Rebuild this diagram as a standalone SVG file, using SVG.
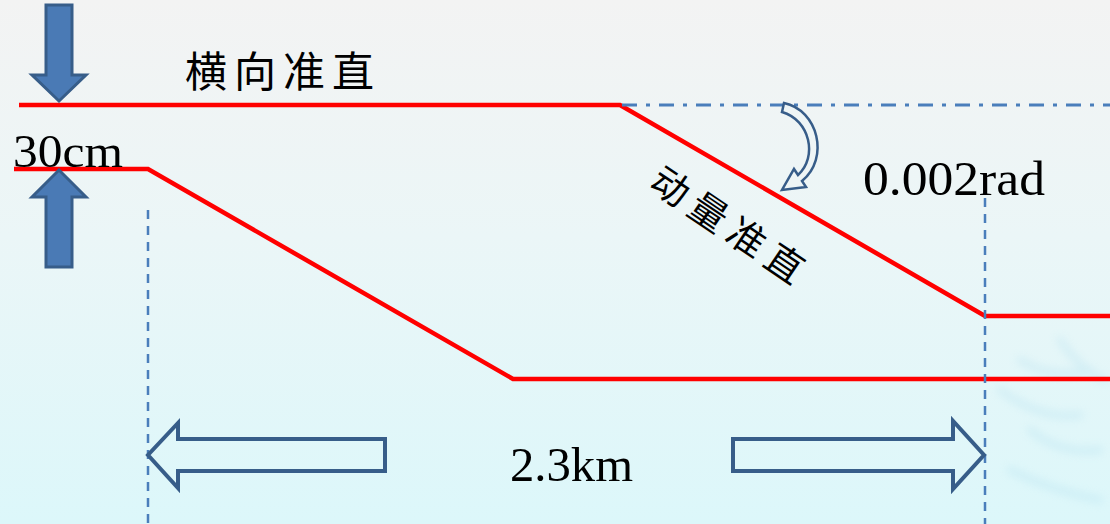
<svg xmlns="http://www.w3.org/2000/svg" width="1110" height="524" viewBox="0 0 1110 524">
  <defs>
    <linearGradient id="bg" x1="0" y1="0" x2="0" y2="1">
      <stop offset="0" stop-color="#f3f3f3"/>
      <stop offset="0.45" stop-color="#ebf6f7"/>
      <stop offset="1" stop-color="#dcf7fa"/>
    </linearGradient>
    <filter id="blur" x="-20%" y="-20%" width="140%" height="140%">
      <feGaussianBlur stdDeviation="4"/>
    </filter>
    <style>
      .red { stroke: #ff0000; stroke-width: 4.5; fill: none; }
      .dash { stroke: #4a7ebb; stroke-width: 2.5; stroke-dasharray: 9 7; fill: none; }
      .dashdot { stroke: #4a7ebb; stroke-width: 3; stroke-dasharray: 15 9 4 9; fill: none; }
      .blockArrow { fill: #4a7ab5; stroke: #375d89; stroke-width: 3; }
      .outlineArrow { fill: none; stroke: #375d89; stroke-width: 4; stroke-linejoin: miter; }
      .serif { font-family: "Liberation Serif", "DejaVu Serif", serif; fill: #000; }
      .cjk { font-family: "Noto Sans CJK SC", "Noto Sans CJK JP", sans-serif; fill: #000; }
    </style>
  </defs>

  <rect width="1110" height="524" fill="url(#bg)"/>
  <g opacity="0.25" filter="url(#blur)" stroke="#9ed6ea" stroke-width="7" fill="none" stroke-linecap="round">
    <path d="M1020 360 q30 20 70 10"/>
    <path d="M1000 390 q40 30 80 25"/>
    <path d="M1030 430 q30 25 70 20"/>
    <path d="M1010 470 q40 20 90 30"/>
    <path d="M1060 340 q20 30 45 40"/>
  </g>

  <g id="connectors">
    <path class="red" d="M19 105 H620 L985 316 H1110"/>
    <path class="red" d="M14 169 H148 L513 379 H1110"/>
    <path class="dashdot" d="M622 105 H1110"/>
    <path class="dash" d="M148 210 V524"/>
    <path class="dash" d="M985 198 V524"/>
  </g>

  <g id="arrow-down">
    <path class="blockArrow" d="M46 5 H72 V75 H86 L59 101 L32 75 H46 Z"/>
  </g>
  <g id="arrow-up">
    <path class="blockArrow" d="M46 267 H72 V197 H86 L59 170 L32 197 H46 Z"/>
  </g>

  <g id="curved-arrow">
    <path d="M784 103 C818 110 830 158 802 181 L806 187 L782 190 L794 169 L798 175 C818 157 810 120 782 112 Z" fill="#eef5f6" stroke="#375d89" stroke-width="2.5" stroke-linejoin="miter"/>
  </g>

  <g id="arrow-left">
    <path class="outlineArrow" d="M385 439 V471 H178 V488 L148 455 L178 423 V439 Z"/>
  </g>
  <g id="arrow-right">
    <path class="outlineArrow" d="M733 439 V471 H953 V489 L984 455 L953 421 V439 Z"/>
  </g>

  <g id="label-horizontal">
    <text class="cjk" x="185" y="87" font-size="42" letter-spacing="7">横向准直</text>
  </g>
  <g id="label-30cm">
    <text class="serif" x="13" y="167" font-size="47" textLength="110" lengthAdjust="spacingAndGlyphs">30cm</text>
  </g>
  <g id="label-rad">
    <text class="serif" x="863" y="195" font-size="49" textLength="182" lengthAdjust="spacingAndGlyphs">0.002rad</text>
  </g>
  <g id="label-momentum">
    <text class="cjk" transform="translate(731 227) rotate(34)" x="0" y="14" font-size="38" letter-spacing="8" text-anchor="middle">动量准直</text>
  </g>
  <g id="label-distance">
    <text class="serif" x="510" y="481" font-size="48" textLength="123" lengthAdjust="spacingAndGlyphs">2.3km</text>
  </g>
</svg>
